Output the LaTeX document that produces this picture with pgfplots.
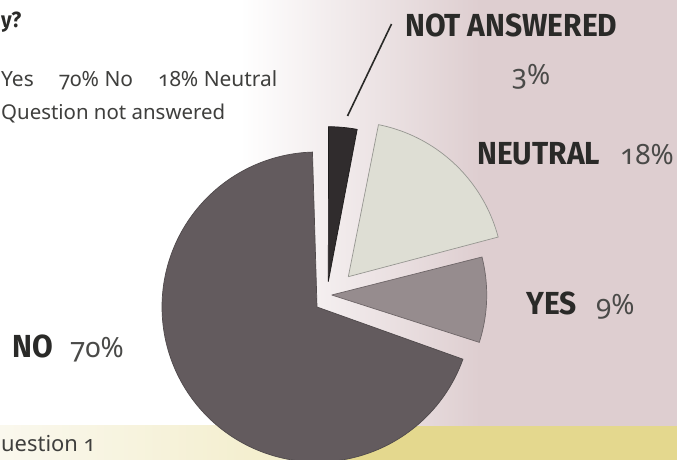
\documentclass[border=0pt]{standalone}
\usepackage{pgfplots}
\pgfplotsset{compat=1.18}
\usepackage{pgfplotstable}
\usepackage{fontspec}
\setmainfont{Noto Sans}[Numbers=OldStyle]
\newfontfamily\boldlab{Fira Sans}[FakeStretch=0.94]
\newfontfamily\numfont{Noto Sans}[Numbers=OldStyle]
\definecolor{pinkC}{RGB}{222,206,208}
\definecolor{yelC}{RGB}{228,216,142}
\definecolor{yelL}{RGB}{242,236,198}
\definecolor{creamC}{RGB}{250,248,238}
\definecolor{textC}{RGB}{42,42,40}
\definecolor{sl0}{RGB}{48,44,45}
\definecolor{sl1}{RGB}{222,222,212}
\definecolor{sl2}{RGB}{150,140,142}
\definecolor{sl3}{RGB}{99,91,94}
\definecolor{sld0}{RGB}{30,28,28}
\definecolor{sld1}{RGB}{150,150,145}
\definecolor{sld2}{RGB}{110,102,104}
\definecolor{sld3}{RGB}{80,74,76}

% slice: percentage, explode offset (dx, dy in picture units, y downward)
\pgfplotstableread{
pct dx dy
3 11.3 -25.3
18 31.3 -30.3
9 14.7 -12.0
70 0 0
}\piedata
\def\cx{317}\def\cy{307}\def\R{155}

\begin{document}
\begin{tikzpicture}[x=1bp,y=1bp]
\useasboundingbox (0,0) rectangle (677,460);
\clip (0,0) rectangle (677,460);
% background
\fill[white] (0,0) rectangle (677,460);
\shade[left color=white, right color=pinkC] (240,34) rectangle (480,460);
\fill[pinkC] (479,34) rectangle (677,460);
\shade[left color=creamC, right color=yelL] (0,0) rectangle (330,34);
\fill[yelC] (330,0) rectangle (677,34);
\begin{axis}[at={(0,0)}, anchor=south west, width=677bp, height=460bp,
  scale only axis, xmin=0, xmax=677, ymin=0, ymax=460, y dir=reverse,
  axis lines=none, clip=true]
\def\aStart{90}
\pgfplotsforeachungrouped \i in {0,1,2,3}{%
  \pgfplotstablegetelem{\i}{pct}\of\piedata \let\p\pgfplotsretval
  \pgfplotstablegetelem{\i}{dx}\of\piedata \let\dx\pgfplotsretval
  \pgfplotstablegetelem{\i}{dy}\of\piedata \let\dy\pgfplotsretval
  \pgfmathsetmacro\aEnd{\aStart-3.6*\p}
  \pgfmathsetmacro\lo{\aEnd-0.01}
  \pgfmathsetmacro\hi{\aStart+0.01}
  \edef\cmd{\noexpand\addplot[fill=sl\i, draw=sld\i, line width=0.7bp, line join=miter, domain=\lo:\hi, samples=150]
    ({\cx+(\dx)+((((x<\aEnd)||(x>\aStart)) ? 0 : \R))*cos(x)},
     {\cy+(\dy)-((((x<\aEnd)||(x>\aStart)) ? 0 : \R))*sin(x)});}
  \cmd
  \global\let\aStart\aEnd
}
\addplot[textC, line width=1.6bp] coordinates {(391.5,24) (347.5,116)};
% labels
\node[anchor=base west, inner sep=0, text=textC, font={\boldlab\bfseries\fontsize{32}{36}\selectfont}] at (axis cs:405,37) {NOT ANSWERED};
\node[anchor=base, inner sep=0, text=textC!85, font={\numfont\fontsize{28}{32}\selectfont}] at (axis cs:531,85) {3\%};
\node[anchor=base west, inner sep=0, text=textC, font={\boldlab\bfseries\fontsize{32}{36}\selectfont}] at (axis cs:477,165) {NEUTRAL};
\node[anchor=base west, inner sep=0, text=textC!85, font={\numfont\fontsize{28}{32}\selectfont}] at (axis cs:620,165) {18\%};
\node[anchor=base west, inner sep=0, text=textC, font={\boldlab\bfseries\fontsize{32}{36}\selectfont}] at (axis cs:526,315) {YES};
\node[anchor=base west, inner sep=0, text=textC!85, font={\numfont\fontsize{28}{32}\selectfont}] at (axis cs:596,315) {9\%};
\node[anchor=base west, inner sep=0, text=textC, font={\boldlab\bfseries\fontsize{32}{36}\selectfont}] at (axis cs:12,357) {NO};
\node[anchor=base west, inner sep=0, text=textC!85, font={\numfont\fontsize{28}{32}\selectfont}] at (axis cs:70,357) {70\%};
\node[anchor=base west, inner sep=0, text=textC, font={\boldlab\bfseries\fontsize{22}{24}\selectfont}] at (axis cs:1,28) {y?};
\node[anchor=base west, inner sep=0, text=textC!90, font={\fontsize{21}{24}\selectfont}] at (axis cs:1,87) {Yes\hspace{25bp}70\%~No\hspace{25bp}18\%~Neutral};
\node[anchor=base west, inner sep=0, text=textC!90, font={\fontsize{20.5}{24}\selectfont}] at (axis cs:1,120) {Question not answered};
\node[anchor=base west, inner sep=0, text=textC!90, font={\fontsize{22}{26}\selectfont}] at (axis cs:1,451) {uestion 1};
\end{axis}
\end{tikzpicture}
\end{document}
